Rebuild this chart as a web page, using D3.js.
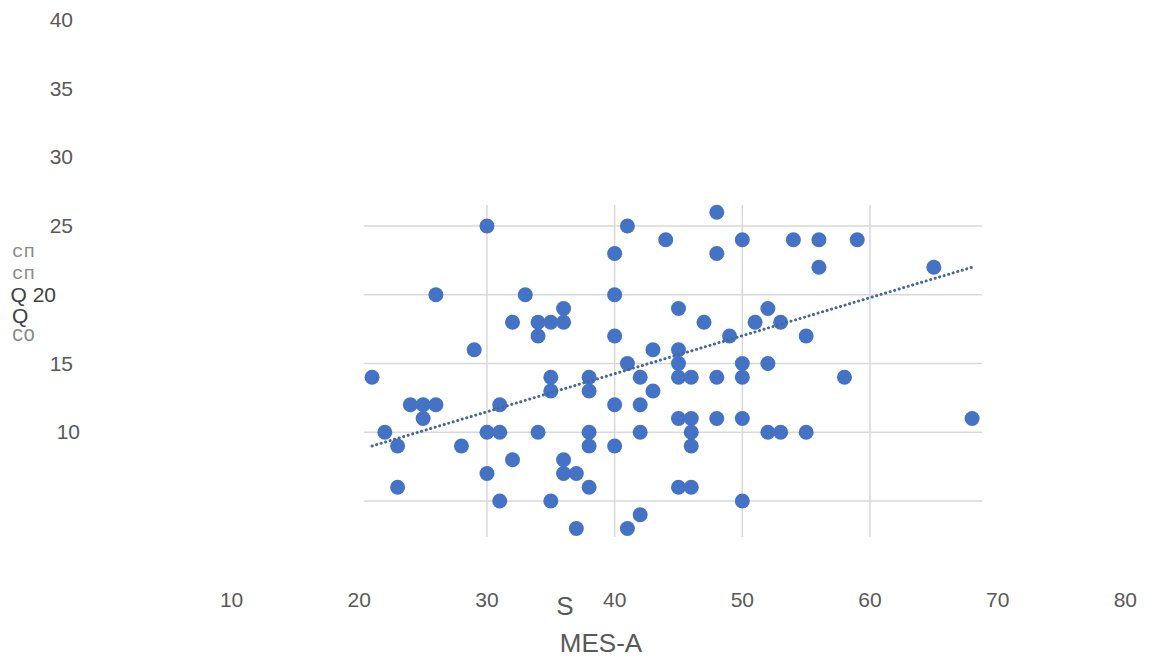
<!DOCTYPE html>
<html>
<head>
<meta charset="utf-8">
<script src="https://cdn.jsdelivr.net/npm/d3@7"></script>
<style>
  body { margin: 0; background: #fff; }
  svg { display: block; }
  .tick-label { font-family: "Liberation Sans", Arial, sans-serif; font-size: 21px; fill: #595959; }
  .axis-title { font-family: "Liberation Sans", Arial, sans-serif; font-size: 26px; fill: #595959; }
  .mono { font-family: "Liberation Mono", "DejaVu Sans Mono", monospace; fill: #8a8a8a; font-size: 19px; }
</style>
</head>
<body>
<script>
// scatter values
const xValues = [21,22,23,23,24,25,25,26,26,28,29,30,30,30,31,31,31,32,32,33,
  34,34,34,35,35,35,35,36,36,36,36,37,37,38,38,38,38,38,40,40,
  40,40,40,41,41,41,42,42,42,42,43,43,44,45,45,45,45,45,45,46,
  46,46,46,46,47,48,48,48,48,49,50,50,50,50,50,51,52,52,52,53,
  53,54,55,55,56,56,58,59,65,68];
const yValues = [14,10,9,6,12,12,11,12,20,9,16,25,10,7,10,12,5,8,18,20,
  18,17,10,18,14,13,5,19,18,8,7,7,3,14,13,10,9,6,23,20,
  17,12,9,25,15,3,14,12,10,4,16,13,24,19,16,15,14,11,6,14,
  11,10,9,6,18,26,23,14,11,17,24,15,14,11,5,18,19,15,10,10,
  18,24,17,10,24,22,14,24,22,11];

// trendline end points as drawn in the picture
const trendX = [21, 68];
const trendY = [9.0, 22.0];

const xTicks = [10,20,30,40,50,60,70,80];
const yTicks = [10,15,20,25,30,35,40];
const yTickText = ["10","15","Q 20","25","30","35","40"];
const xGrid = [30,40,50,60];
const yGrid = [5,10,15,20,25];

const width = 1151, height = 657;

const svg = d3.select("body").append("svg")
  .attr("width", width)
  .attr("height", height);

// scales
const x = d3.scaleLinear().domain([20,60]).range([359.3,870]);
const y = d3.scaleLinear().domain([5,25]).range([501,226]);

//gridlines
const grid = svg.append("g").attr("stroke","#d9d9d9").attr("stroke-width",1.5);
grid.selectAll(".hg").data(yGrid).enter().append("line")
  .attr("x1", 364).attr("x2", 982)
  .attr("y1", d => y(d)).attr("y2", d => y(d));
grid.selectAll(".vg").data(xGrid).enter().append("line")
  .attr("x1", d => x(d)).attr("x2", d => x(d))
  .attr("y1", 205).attr("y2", 537);

// tick labels
svg.selectAll(".xt").data(xTicks).enter().append("text")
  .attr("class","tick-label")
  .attr("x", d => x(d))
  .attr("y", 607)
  .attr("text-anchor","middle")
  .text(d => d);

const yShift = {10: 7, 20: -17};
svg.selectAll(".yt").data(yTicks).enter().append("text")
  .attr("class","tick-label")
  .attr("x", d => 73 + (yShift[d] || 0))
  .attr("y", d => y(d) + 7)
  .attr("text-anchor","end")
  .style("fill", d => d === 20 ? "#404040" : null)
  .text((d,i) => yTickText[i]);

// stray glyphs along the y axis
svg.append("text").attr("class","mono").attr("x",12).attr("y",257).text("cп");
svg.append("text").attr("class","mono").attr("x",12).attr("y",279).text("cп");
svg.append("text").attr("class","tick-label").attr("x",12).attr("y",323).style("fill","#404040").text("Q");
svg.append("text").attr("class","mono").attr("x",12).attr("y",341).text("CO");

// x axis title
svg.append("text").attr("class","axis-title").attr("x",565).attr("y",615).attr("text-anchor","middle").text("S");
svg.append("text").attr("class","axis-title").attr("x",601).attr("y",652).attr("text-anchor","middle").text("MES-A");

// points
const pts = xValues.map((v,i) => [v, yValues[i]]);
svg.append("g").selectAll("circle").data(pts).enter().append("circle")
  .attr("cx", d => x(d[0]))
  .attr("cy", d => y(d[1]))
  .attr("r", 7.5)
  .attr("fill", "#4472c4");

// dotted trendline
svg.append("path")
  .datum(trendX.map((v,i) => [v, trendY[i]]))
  .attr("d", d3.line().x(d => x(d[0])).y(d => y(d[1])))
  .attr("fill","none")
  .attr("stroke", "#44679e")
  .attr("stroke-width", 3)
  .attr("stroke-linecap", "round")
  .attr("stroke-dasharray", "0.1 4.6");
</script>
</body>
</html>
